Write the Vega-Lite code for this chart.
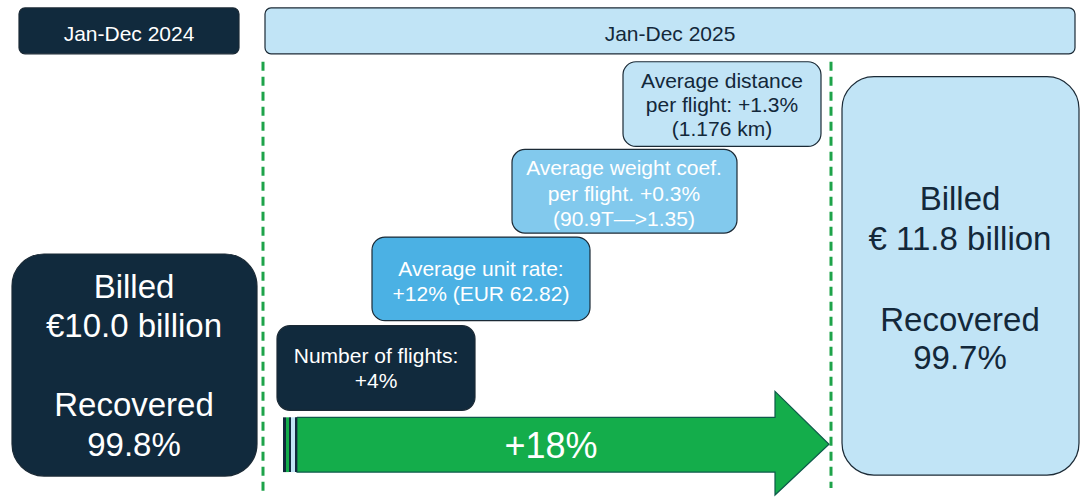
{
  "$schema": "https://vega.github.io/schema/vega-lite/v6.json",
  "width": 1081,
  "height": 498,
  "autosize": {"type": "fit", "contains": "padding"},
  "padding": 0,
  "background": "#ffffff",
  "config": {"view": {"stroke": null}, "font": "Liberation Sans"},
  "datasets": {
    "headers": [
      {"label": "Jan-Dec 2024", "x0": 19, "x1": 239, "y0": 8, "y1": 54, "tone": "dark"},
      {"label": "Jan-Dec 2025", "x0": 265, "x1": 1075, "y0": 8, "y1": 54, "tone": "light"}
    ],
    "steps": [
      {"name": "Number of flights", "x0": 277, "x1": 475, "y0": 327, "y1": 412, "tone": "dark"},
      {"name": "Average unit rate", "x0": 372, "x1": 590, "y0": 238, "y1": 322, "tone": "mid"},
      {"name": "Average weight coef.", "x0": 512, "x1": 737, "y0": 150, "y1": 234, "tone": "sky"},
      {"name": "Average distance", "x0": 623, "x1": 821, "y0": 62, "y1": 147, "tone": "light"}
    ],
    "totals": [
      {"period": "2024", "x0": 12, "x1": 257, "y0": 255, "y1": 478, "tone": "dark"},
      {"period": "2025", "x0": 842, "x1": 1079, "y0": 77, "y1": 477, "tone": "light"}
    ],
    "dividers": [
      {"x": 263, "y0": 62, "y1": 495},
      {"x": 831, "y0": 62, "y1": 490}
    ],
    "stripes": [
      {"x0": 283, "x1": 286, "y0": 419, "y1": 474, "tone": "dark"},
      {"x0": 286, "x1": 289, "y0": 419, "y1": 474, "tone": "green"},
      {"x0": 289, "x1": 291, "y0": 419, "y1": 474, "tone": "dark"},
      {"x0": 291, "x1": 295, "y0": 419, "y1": 474, "tone": "light"},
      {"x0": 295, "x1": 297, "y0": 419, "y1": 474, "tone": "dark"}
    ],
    "arrowBody": [
      {"x0": 297, "x1": 776, "y0": 419, "y1": 474}
    ],
    "arrowHead": [
      {"x": 775, "top": 393, "bottom": 497},
      {"x": 829, "top": 446, "bottom": 446}
    ],
    "arrowOutline": [
      {"i": 1, "x": 297, "y": 419},
      {"i": 2, "x": 775, "y": 419},
      {"i": 3, "x": 775, "y": 393},
      {"i": 4, "x": 829, "y": 446},
      {"i": 5, "x": 775, "y": 497},
      {"i": 6, "x": 775, "y": 474},
      {"i": 7, "x": 297, "y": 474},
      {"i": 8, "x": 297, "y": 419}
    ],
    "texts": [
      {"text": "Jan-Dec 2024", "x": 129, "y": 41, "ink": "light", "group": "box"},
      {"text": "Jan-Dec 2025", "x": 670, "y": 41, "ink": "dark", "group": "box"},
      {"text": "Number of flights:", "x": 376, "y": 364, "ink": "light", "group": "box"},
      {"text": "+4%", "x": 376, "y": 390, "ink": "light", "group": "box"},
      {"text": "Average unit rate:", "x": 481, "y": 277, "ink": "light", "group": "box"},
      {"text": "+12% (EUR 62.82)", "x": 481, "y": 302, "ink": "light", "group": "box"},
      {"text": "Average weight coef.", "x": 624, "y": 176, "ink": "light", "group": "box"},
      {"text": "per flight. +0.3%", "x": 624, "y": 202, "ink": "light", "group": "box"},
      {"text": "(90.9T—>1.35)", "x": 624, "y": 227, "ink": "light", "group": "box"},
      {"text": "Average distance", "x": 722, "y": 88, "ink": "dark", "group": "box"},
      {"text": "per flight: +1.3%", "x": 722, "y": 112, "ink": "dark", "group": "box"},
      {"text": "(1.176 km)", "x": 722, "y": 137, "ink": "dark", "group": "box"},
      {"text": "Billed", "x": 134, "y": 299, "ink": "light", "group": "total"},
      {"text": "€10.0 billion", "x": 134, "y": 338, "ink": "light", "group": "total"},
      {"text": "Recovered", "x": 134, "y": 418, "ink": "light", "group": "total"},
      {"text": "99.8%", "x": 134, "y": 458, "ink": "light", "group": "total"},
      {"text": "Billed", "x": 960, "y": 211, "ink": "dark", "group": "total"},
      {"text": "€ 11.8 billion", "x": 960, "y": 251, "ink": "dark", "group": "total"},
      {"text": "Recovered", "x": 960, "y": 332, "ink": "dark", "group": "total"},
      {"text": "99.7%", "x": 960, "y": 370, "ink": "dark", "group": "total"},
      {"text": "+18%", "x": 551, "y": 460, "ink": "light", "group": "arrow"}
    ]
  },
  "layer": [
    {
      "data": {"name": "dividers"},
      "mark": {"type": "rule", "color": "#1ea34a", "strokeWidth": 3, "strokeDash": [9, 6]},
      "encoding": {
        "x": {"field": "x", "type": "quantitative", "scale": {"domain": [0, 1081], "nice": false, "zero": false}, "axis": null},
        "y": {"field": "y0", "type": "quantitative", "scale": {"domain": [0, 498], "nice": false, "zero": false, "reverse": true}, "axis": null},
        "y2": {"field": "y1"}
      }
    },
    {
      "data": {"name": "headers"},
      "mark": {"type": "rect", "cornerRadius": 6, "stroke": "#1b2a36", "strokeWidth": 1.2},
      "encoding": {
        "x": {"field": "x0", "type": "quantitative", "axis": null},
        "x2": {"field": "x1"},
        "y": {"field": "y0", "type": "quantitative", "axis": null},
        "y2": {"field": "y1"},
        "fill": {"field": "tone", "type": "nominal", "legend": null, "scale": {"domain": ["dark", "mid", "sky", "light", "green"], "range": ["#112a3d", "#4bb1e4", "#82c9ed", "#c1e4f6", "#14ad4b"]}}
      }
    },
    {
      "data": {"name": "steps"},
      "mark": {"type": "rect", "cornerRadius": 13, "stroke": "#1b2a36", "strokeWidth": 1.2},
      "encoding": {
        "x": {"field": "x0", "type": "quantitative", "axis": null},
        "x2": {"field": "x1"},
        "y": {"field": "y0", "type": "quantitative", "axis": null},
        "y2": {"field": "y1"},
        "fill": {"field": "tone", "type": "nominal", "legend": null}
      }
    },
    {
      "data": {"name": "totals"},
      "mark": {"type": "rect", "cornerRadius": 32, "stroke": "#1b2a36", "strokeWidth": 1.2},
      "encoding": {
        "x": {"field": "x0", "type": "quantitative", "axis": null},
        "x2": {"field": "x1"},
        "y": {"field": "y0", "type": "quantitative", "axis": null},
        "y2": {"field": "y1"},
        "fill": {"field": "tone", "type": "nominal", "legend": null}
      }
    },
    {
      "data": {"name": "arrowBody"},
      "mark": {"type": "rect", "color": "#14ad4b"},
      "encoding": {
        "x": {"field": "x0", "type": "quantitative", "axis": null},
        "x2": {"field": "x1"},
        "y": {"field": "y0", "type": "quantitative", "axis": null},
        "y2": {"field": "y1"}
      }
    },
    {
      "data": {"name": "arrowHead"},
      "mark": {"type": "area", "color": "#14ad4b", "orient": "vertical", "interpolate": "linear"},
      "encoding": {
        "x": {"field": "x", "type": "quantitative", "axis": null},
        "y": {"field": "top", "type": "quantitative", "axis": null},
        "y2": {"field": "bottom"}
      }
    },
    {
      "data": {"name": "arrowOutline"},
      "mark": {"type": "line", "color": "#0d5a4a", "strokeWidth": 1.2, "interpolate": "linear"},
      "encoding": {
        "x": {"field": "x", "type": "quantitative", "axis": null},
        "y": {"field": "y", "type": "quantitative", "axis": null},
        "order": {"field": "i", "type": "quantitative"}
      }
    },
    {
      "data": {"name": "stripes"},
      "mark": {"type": "rect"},
      "encoding": {
        "x": {"field": "x0", "type": "quantitative", "axis": null},
        "x2": {"field": "x1"},
        "y": {"field": "y0", "type": "quantitative", "axis": null},
        "y2": {"field": "y1"},
        "fill": {"field": "tone", "type": "nominal", "legend": null}
      }
    },
    {
      "data": {"name": "texts"},
      "transform": [{"filter": "datum.group === 'box'"}],
      "mark": {"type": "text", "fontSize": 21, "align": "center", "baseline": "alphabetic", "font": "Liberation Sans"},
      "encoding": {
        "x": {"field": "x", "type": "quantitative", "axis": null},
        "y": {"field": "y", "type": "quantitative", "axis": null},
        "text": {"field": "text"},
        "color": {"field": "ink", "type": "nominal", "legend": null, "scale": {"domain": ["light", "dark"], "range": ["#ffffff", "#13283a"]}}
      }
    },
    {
      "data": {"name": "texts"},
      "transform": [{"filter": "datum.group === 'total'"}],
      "mark": {"type": "text", "fontSize": 33, "align": "center", "baseline": "alphabetic", "font": "Liberation Sans"},
      "encoding": {
        "x": {"field": "x", "type": "quantitative", "axis": null},
        "y": {"field": "y", "type": "quantitative", "axis": null},
        "text": {"field": "text"},
        "color": {"field": "ink", "type": "nominal", "legend": null}
      }
    },
    {
      "data": {"name": "texts"},
      "transform": [{"filter": "datum.group === 'arrow'"}],
      "mark": {"type": "text", "fontSize": 36, "align": "center", "baseline": "alphabetic", "font": "Liberation Sans"},
      "encoding": {
        "x": {"field": "x", "type": "quantitative", "axis": null},
        "y": {"field": "y", "type": "quantitative", "axis": null},
        "text": {"field": "text"},
        "color": {"field": "ink", "type": "nominal", "legend": null}
      }
    }
  ]
}
